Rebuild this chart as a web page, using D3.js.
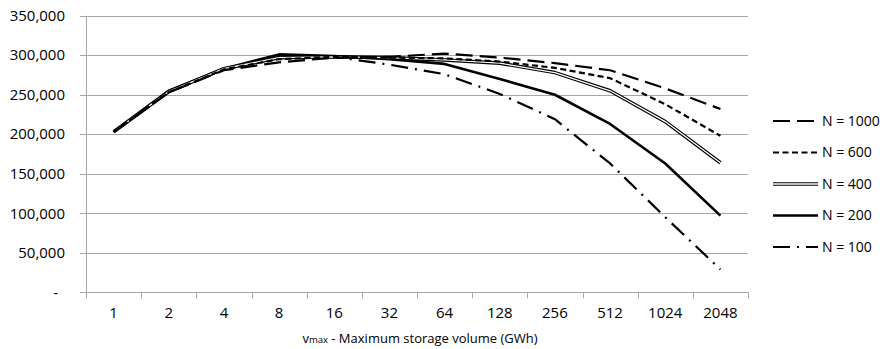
<!DOCTYPE html>
<html>
<head>
<meta charset="utf-8">
<script src="https://cdn.jsdelivr.net/npm/d3@7"></script>
<style>
	body { margin: 0; background: #fff; }
	text { font-family: "Open Sans", sans-serif; font-size: 14px; fill: #000; }
	.tick { font-size: 15px; }
	.title { font-size: 13px; }
</style>
</head>
<body>
<svg id="chart" width="886" height="349"></svg>
<script>
var categories = ["1", "2", "4", "8", "16", "32", "64", "128", "256", "512", "1024", "2048"];
var yTicks = [0, 50000, 100000, 150000, 200000, 250000, 300000, 350000];

var n1000 = [203000, 253000, 281000, 291000, 297000, 298000, 302000, 297000, 290000, 281000, 258000, 232000];
var n600 = [203000, 253000, 282000, 295000, 298000, 297000, 296000, 292000, 284000, 271000, 238000, 198000];
var n400 = [203000, 254000, 283000, 297000, 298000, 297000, 294000, 290000, 278000, 255000, 216000, 164000];
var n200 = [203000, 255000, 283000, 301000, 299000, 295000, 289000, 270000, 250000, 213000, 163000, 97000];
var n100 = [203000, 254000, 283000, 296000, 298000, 288000, 276000, 251000, 219000, 163000, 95000, 29000];

var seriesNames = ["N = 1000", "N = 600", "N = 400", "N = 200", "N = 100"];
var seriesData = [n1000, n600, n400, n200, n100];

var svg = d3.select("#chart"),
	plotLeft = 86, plotRight = 748, plotTop = 15.7, plotBottom = 292.3;

var x = d3.scaleBand().domain(categories).range([plotLeft, plotRight]);
var y = d3.scaleLinear().domain([0, 350000]).range([plotBottom, plotTop]);

// line looks, in legend order
var styles = [
	{ dash: "17,7", width: 2.2 },
	{ dash: "6,3.5", width: 2.2 },
	{ dash: null, width: 3.6, inner: 1.3 },
	{ dash: null, width: 2.6 },
	{ dash: "17,7,2,7", width: 2.2 }
];

// gridlines
svg.append("g")
	.selectAll("line")
	.data(yTicks)
	.enter().append("line")
	.attr("x1", plotLeft - 6).attr("x2", plotRight)
	.attr("y1", function (d) { return Math.round(y(d)) + 0.5; })
	.attr("y2", function (d) { return Math.round(y(d)) + 0.5; })
	.attr("stroke", "#a6a6a6")
	.attr("stroke-width", 1);

// y axis line
svg.append("line")
	.attr("x1", plotLeft + 0.5).attr("x2", plotLeft + 0.5)
	.attr("y1", y(350000)).attr("y2", plotBottom + 6)
	.attr("stroke", "#a6a6a6");

// x ticks between categories
var bounds = categories.map(function (c) { return x(c); }).concat([plotRight]);
svg.append("g")
	.selectAll("line")
	.data(bounds)
	.enter().append("line")
	.attr("x1", function (d) { return Math.round(d) + 0.5; })
	.attr("x2", function (d) { return Math.round(d) + 0.5; })
	.attr("y1", plotBottom).attr("y2", plotBottom + 6)
	.attr("stroke", "#a6a6a6");

var fmt = d3.format(",");
svg.append("g")
	.selectAll("text")
	.data(yTicks)
	.enter().append("text")
	.attr("class", "tick")
	.attr("x", function (d) { return d === 0 ? 58 : 65; })
	.attr("y", function (d) { return y(d); })
	.attr("dy", "0.35em")
	.attr("text-anchor", "end")
	.text(function (d) { return d === 0 ? "-" : fmt(d); });

svg.append("g")
	.selectAll("text")
	.data(categories)
	.enter().append("text")
	.attr("class", "tick")
	.attr("x", function (d) { return x(d) + x.bandwidth() / 2; })
	.attr("y", 318)
	.attr("text-anchor", "middle")
	.text(function (d) { return d; });

var title = svg.append("text")
	.attr("class", "title")
	.attr("x", 420)
	.attr("y", 343)
	.attr("text-anchor", "middle");
title.append("tspan").text("v");
title.append("tspan").style("font-size", "9.5px").text("max");
title.append("tspan").text(" - Maximum storage volume (GWh)");

var line = d3.line()
	.x(function (d, i) { return x(categories[i]) + x.bandwidth() / 2; })
	.y(function (d) { return y(d); });

function drawStroke(sel, st) {
	sel.attr("fill", "none")
		.attr("stroke", "#000")
		.attr("stroke-width", st.width)
		.attr("stroke-dasharray", st.dash)
		.attr("stroke-linejoin", "round");
}

// draw back to front so N = 1000 ends up on top like the original
for (var i = seriesData.length - 1; i >= 0; i--) {
	var p = svg.append("path").attr("d", line(seriesData[i]));
	drawStroke(p, styles[i]);
	if (styles[i].inner) {
		svg.append("path").attr("d", line(seriesData[i]))
			.attr("fill", "none").attr("stroke", "#fff")
			.attr("stroke-width", styles[i].inner);
	}
}

// legend
var legendY = [121, 152.5, 184, 215.5, 247];
seriesNames.forEach(function (name, i) {
	var g = svg.append("g").attr("transform", "translate(0," + legendY[i] + ")");
	var l = g.append("line").attr("x1", 773).attr("x2", 818).attr("y1", 0).attr("y2", 0);
	drawStroke(l, styles[i]);
	if (styles[i].inner) {
		g.append("line").attr("x1", 773).attr("x2", 818).attr("y1", 0).attr("y2", 0)
			.attr("stroke", "#fff").attr("stroke-width", styles[i].inner);
	}
	g.append("text").attr("x", 822).attr("y", 0).attr("dy", "0.35em").text(name);
});
</script>
</body>
</html>
